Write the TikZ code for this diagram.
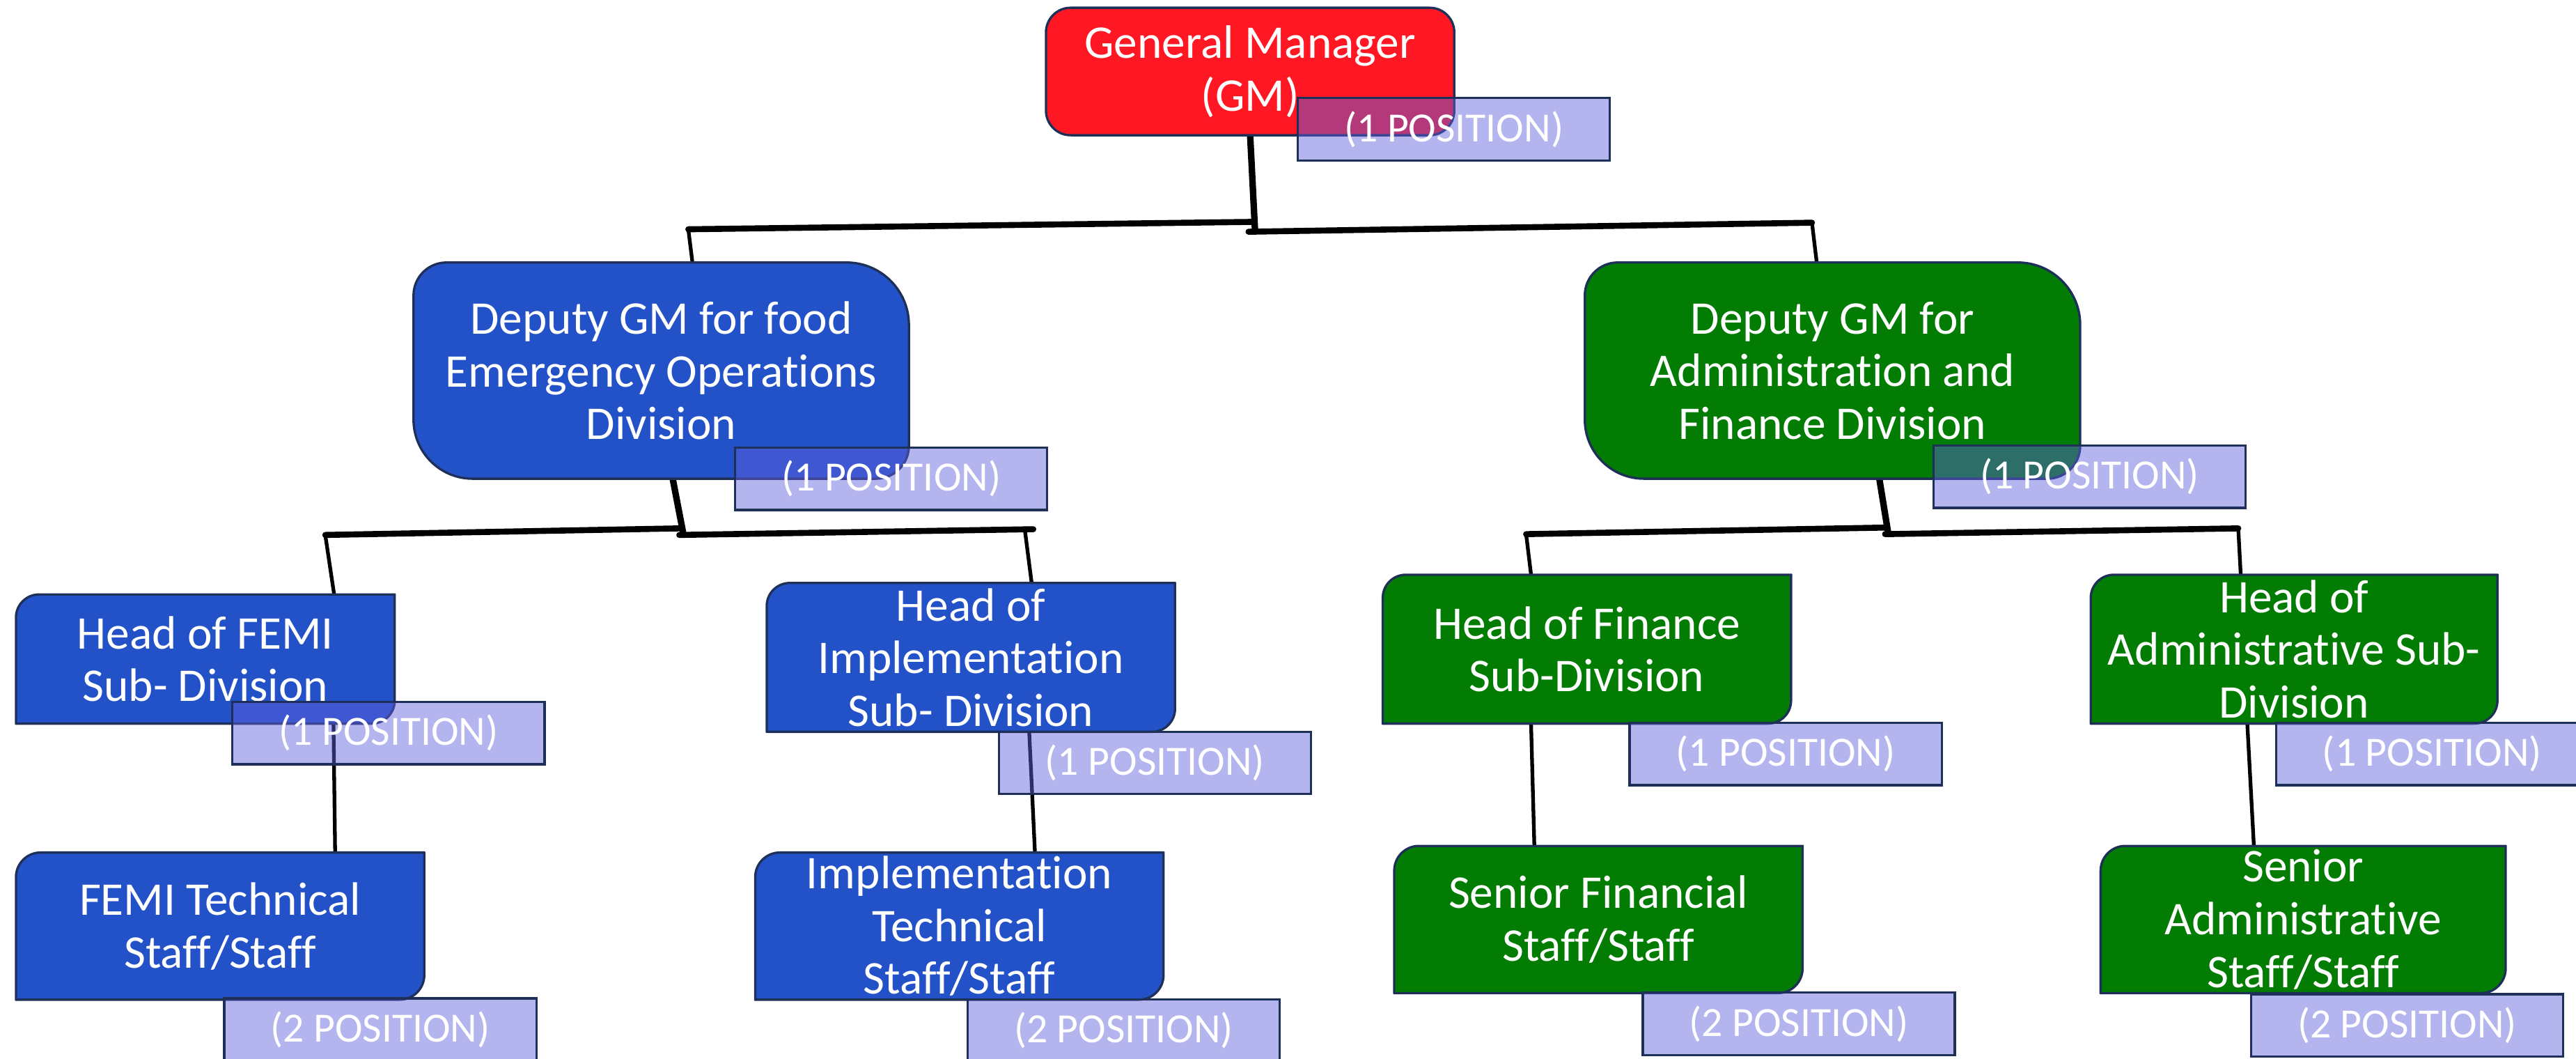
\documentclass[tikz,border=0pt]{standalone}
\usepackage{fontspec}
\setmainfont{Carlito}[Ligatures=CommonOff]
\usetikzlibrary{backgrounds}
\definecolor{gmred}{RGB}{255,24,36}
\definecolor{foodblue}{RGB}{35,81,200}
\definecolor{adgreen}{RGB}{2,124,2}
\definecolor{edgenavy}{RGB}{30,48,88}
\definecolor{poslav}{RGB}{96,96,220}
\tikzstyle{card}=[inner sep=0pt,align=center,text=white,font=\fontsize{20.3}{22.8}\selectfont]
\tikzstyle{posbox}=[draw=edgenavy,line width=1pt,fill=poslav,fill opacity=0.47,text opacity=1,text=white,inner sep=0pt,minimum width=47.5mm,minimum height=9.5mm,font=\fontsize{18}{20}\selectfont]
\tikzstyle{cardline}=[draw=edgenavy,line width=1pt]
\tikzstyle{stemline}=[line width=2.8pt,line cap=round]
\tikzstyle{barline}=[line width=2.6pt,line cap=round]
\tikzstyle{dropline}=[line width=1.6pt]
\newcommand{\cardshape}[6]{%
\draw[cardline,fill=#2] ([yshift=-#3]#1.north west) arc[start angle=180,end angle=90,radius=#3]
  -- ([xshift=-#4]#1.north east) arc[start angle=90,end angle=0,radius=#4]
  -- ([yshift=#5]#1.south east) arc[start angle=0,end angle=-90,radius=#5]
  -- ([xshift=#6]#1.south west) arc[start angle=270,end angle=180,radius=#6] -- cycle;}

\begin{document}
\begin{tikzpicture}[x=0.25mm,y=-0.25mm]
\useasboundingbox (0,0) rectangle (1568.1,644.3);

\node[card,minimum width=62mm,minimum height=19.25mm] (gm) at (761,43.5) {General Manager\\(GM)};
\node[card,minimum width=75.25mm,minimum height=32.75mm] (dfood) at (402.5,225.5) {Deputy GM for food\\Emergency Operations\\Division};
\node[card,minimum width=75.25mm,minimum height=32.75mm] (dadm) at (1115.5,225.5) {Deputy GM for\\Administration and\\Finance Division};
\node[card,minimum width=57.5mm,minimum height=19.5mm] (hfemi) at (125,401) {Head of FEMI\\Sub- Division};
\node[card,minimum width=62mm,minimum height=22.5mm] (himpl) at (591,400) {Head of\\Implementation\\Sub- Division};
\node[card,minimum width=62mm,minimum height=22.5mm] (hfin) at (966,395) {Head of Finance\\Sub-Division};
\node[card,minimum width=61.75mm,minimum height=22.5mm] (hadm) at (1396.5,395) {Head of\\Administrative Sub-\\Division};
\node[card,minimum width=62mm,minimum height=22.25mm] (tfemi) at (134,563.5) {FEMI Technical\\Staff/Staff};
\node[card,minimum width=62mm,minimum height=22.25mm] (timpl) at (584,563.5) {Implementation\\Technical\\Staff/Staff};
\node[card,minimum width=62mm,minimum height=22.25mm] (sfin) at (973,559.5) {Senior Financial\\Staff/Staff};
\node[card,minimum width=61.5mm,minimum height=22.25mm] (sadm) at (1402,559.5) {Senior\\Administrative\\Staff/Staff};

\begin{pgfonlayer}{background}
\coordinate (t0) at (764,141);
\coordinate (tl) at (419,139.5);
\coordinate (tlm) at (763,135);
\coordinate (trm) at (760,141);
\coordinate (tr) at (1103,135.5);
\draw[stemline] (gm.south) -- (t0);
\draw[barline] (tl) -- (tlm);
\draw[barline] (trm) -- (tr);
\draw[dropline] (tl) -- ([xshift=4.75mm]dfood.north);
\draw[dropline] (tr) -- ([xshift=-2.4mm]dadm.north);

\coordinate (l0) at (416,325);
\coordinate (ll) at (198,325.5);
\coordinate (llm) at (413.5,321.5);
\coordinate (lrm) at (413.5,325.5);
\coordinate (lr) at (629,322);
\draw[stemline] ([xshift=1.75mm]dfood.south) -- (l0);
\draw[barline] (ll) -- (llm);
\draw[barline] (lrm) -- (lr);
\draw[dropline] (ll) -- ([xshift=19.6mm]hfemi.north);
\draw[dropline] ([xshift=-1.3mm]lr) -- ([xshift=9.25mm]himpl.north);

\coordinate (r0) at (1149.5,325);
\coordinate (rl) at (929,325);
\coordinate (rlm) at (1148,321);
\coordinate (rrm) at (1147.5,325);
\coordinate (rr) at (1362.5,321.5);
\draw[stemline] ([xshift=7.125mm]dadm.south) -- (r0);
\draw[barline] (rl) -- (rlm);
\draw[barline] (rrm) -- (rr);
\draw[dropline] (rl) -- ([xshift=-8.5mm]hfin.north);
\draw[dropline] (rr) -- ([xshift=-8.125mm]hadm.north);

\draw[dropline] ([xshift=19.5mm]hfemi.south) -- ([xshift=17.5mm]tfemi.north);
\draw[dropline] ([xshift=8.875mm]himpl.south) -- ([xshift=11.5mm]timpl.north);
\draw[dropline] ([xshift=-8.5mm]hfin.south) -- ([xshift=-9.75mm]sfin.north);
\draw[dropline] ([xshift=-7.125mm]hadm.south) -- ([xshift=-7.5mm]sadm.north);

\cardshape{gm}{gmred}{3.75mm}{3.75mm}{3.75mm}{3.75mm}
\cardshape{dfood}{foodblue}{5mm}{9.5mm}{5mm}{9mm}
\cardshape{dadm}{adgreen}{5mm}{9.5mm}{5mm}{9mm}
\cardshape{hfemi}{foodblue}{3.5mm}{0.01pt}{3.5mm}{0.01pt}
\cardshape{himpl}{foodblue}{3.5mm}{0.01pt}{3.5mm}{0.01pt}
\cardshape{hfin}{adgreen}{3.5mm}{0.01pt}{3.5mm}{0.01pt}
\cardshape{hadm}{adgreen}{3.5mm}{0.01pt}{3.5mm}{0.01pt}
\cardshape{tfemi}{foodblue}{3.75mm}{0.01pt}{3.75mm}{0.01pt}
\cardshape{timpl}{foodblue}{3.75mm}{0.01pt}{3.75mm}{0.01pt}
\cardshape{sfin}{adgreen}{3.75mm}{0.01pt}{3.75mm}{0.01pt}
\cardshape{sadm}{adgreen}{3.75mm}{0.01pt}{3.75mm}{0.01pt}
\end{pgfonlayer}

\node[posbox] (pgm) at (885,78.7) {(1 POSITION)};
\node[posbox] (pdfood) at (542.5,291.3) {(1 POSITION)};
\node[posbox] (pdadm) at (1272,290) {(1 POSITION)};
\node[posbox] (phfemi) at (236.5,446) {(1 POSITION)};
\node[posbox] (phimpl) at (703,464.2) {(1 POSITION)};
\node[posbox] (phfin) at (1087,458.7) {(1 POSITION)};
\node[posbox] (phadm) at (1480.5,458.7) {(1 POSITION)};
\node[posbox] (ptfemi) at (231.5,626.5) {(2 POSITION)};
\node[posbox] (ptimpl) at (684,627) {(2 POSITION)};
\node[posbox] (psfin) at (1095,623) {(2 POSITION)};
\node[posbox] (psadm) at (1465.3,624) {(2 POSITION)};
\end{tikzpicture}
\end{document}
